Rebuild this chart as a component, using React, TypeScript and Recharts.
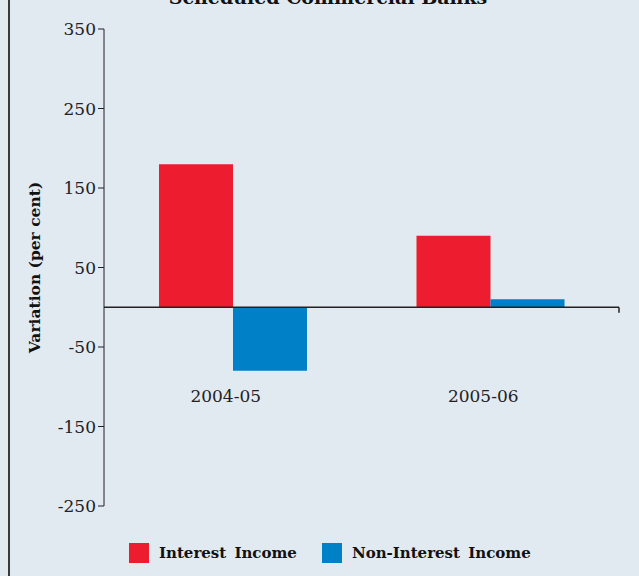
import { BarChart, Bar, XAxis, YAxis, ReferenceLine } from 'recharts';

const years = ['2004-05', '2005-06'];
const interestIncome = [180, 90];
const nonInterestIncome = [-80, 10];
const yTicks = [-250, -150, -50, 50, 150, 250, 350];
const boundaries = [1, 2];

const RED = '#ee1c2f';
const BLUE = '#0080c6';
const BG = '#e1e9f1';
const INK = '#222';
const FONT = '"DejaVu Serif", serif';

const chartData = years.map((year, i) => ({
  year,
  interest: interestIncome[i],
  nonInterest: nonInterestIncome[i],
}));

const legendItems = [
  { label: 'Interest Income', color: RED },
  { label: 'Non-Interest Income', color: BLUE },
];

// category labels sit just under the lowest bar, not at the plot bottom
const CategoryTick = (props: any) => {
  const { x, y, payload } = props;
  return (
    <text x={x} y={y} dx={-7} dy={-104} textAnchor="middle" fill={INK} fontFamily={FONT} fontSize={17}>
      {payload.value}
    </text>
  );
};

export default function App() {
  return (
    <div style={{ position: 'fixed', inset: 0, background: BG, overflow: 'hidden' }}>
      <div style={{ position: 'absolute', left: 8, top: 0, width: 2, height: 576, background: '#3a3a3a' }} />
      <div
        style={{
          position: 'absolute', left: 0, top: -12, width: 656, textAlign: 'center',
          fontFamily: FONT, fontWeight: 'bold', fontSize: 19, lineHeight: 1, color: '#111',
        }}
      >
        Scheduled Commercial Banks
      </div>
      <div style={{ position: 'absolute', left: 0, top: -30 }}>
        <BarChart width={639} height={620} data={chartData} margin={{ top: 59, right: 20, bottom: 54, left: 0 }} barGap={0}>
          <XAxis
            dataKey="year"
            height={30}
            axisLine={false}
            tickLine={false}
            tickSize={0}
            tickMargin={0}
            tick={CategoryTick}
            interval={0}
          />
          <XAxis xAxisId="n" type="number" domain={[0, 2]} hide />
          <YAxis
            width={104}
            domain={[-250, 350]}
            ticks={yTicks}
            interval={0}
            stroke={INK}
            tickSize={6}
            tickMargin={2}
            tick={{ fill: INK, fontFamily: FONT, fontSize: 17 }}
            label={{
              value: 'Variation (per cent)', angle: -90, position: 'insideLeft', offset: 34,
              style: { textAnchor: 'middle', fontFamily: FONT, fontWeight: 'bold', fontSize: 15.5, fill: '#111' },
            }}
          />
          <Bar dataKey="interest" name="Interest Income" fill={RED} barSize={74} isAnimationActive={false} />
          <Bar dataKey="nonInterest" name="Non-Interest Income" fill={BLUE} barSize={74} isAnimationActive={false} />
          <ReferenceLine y={0} stroke={INK} strokeWidth={1.5} />
          {boundaries.map((b) => (
            <ReferenceLine
              key={b}
              xAxisId="n"
              segment={[{ x: b, y: 0 }, { x: b, y: -7 }]}
              stroke={INK}
              strokeWidth={1.5}
            />
          ))}
        </BarChart>
      </div>
      <div
        style={{
          position: 'absolute', left: 129, top: 543, display: 'flex', alignItems: 'center',
          fontFamily: FONT, fontWeight: 'bold', fontSize: 15, color: '#111', lineHeight: '20px',
        }}
      >
        {legendItems.map((item, i) => (
          <div key={item.label} style={{ display: 'flex', alignItems: 'center', marginLeft: i === 0 ? 0 : 25 }}>
            <span style={{ width: 20, height: 20, background: item.color, display: 'inline-block', marginRight: 10 }} />
            <span style={{ wordSpacing: 3 }}>{item.label}</span>
          </div>
        ))}
      </div>
    </div>
  );
}
